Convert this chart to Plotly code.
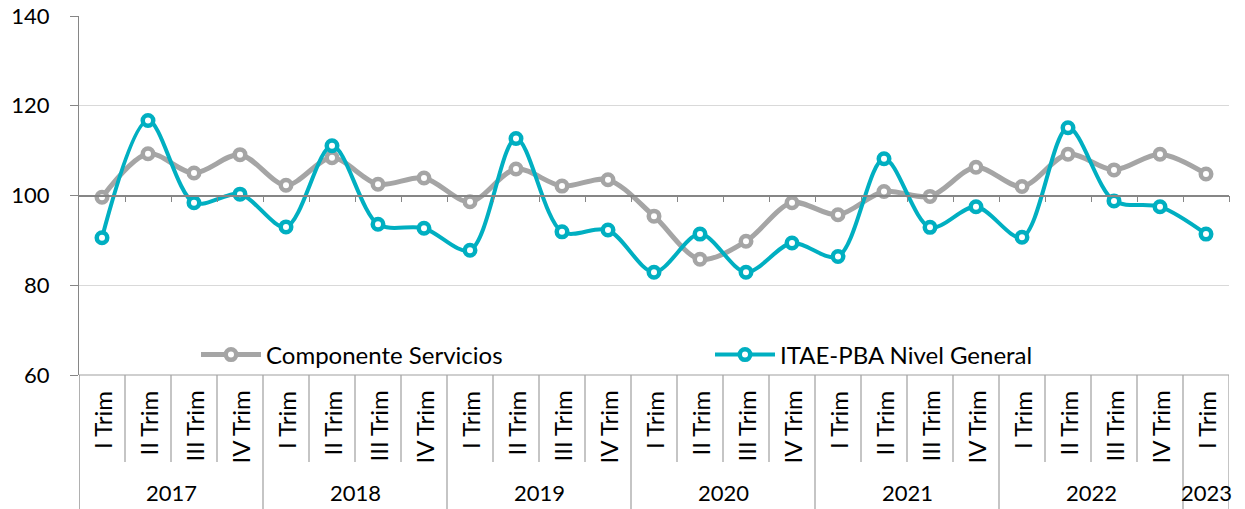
import plotly.graph_objects as go

years = ["2017", "2018", "2019", "2020", "2021", "2022", "2023"]
quarters = ["I Trim", "II Trim", "III Trim", "IV Trim"]
n_points = 25
quarter_labels = [quarters[i % 4] for i in range(n_points)]
year_of_point = [years[i // 4] for i in range(n_points)]

servicios = [99.6, 109.3, 105.0, 109.1, 102.3, 108.4, 102.5, 103.9, 98.6, 105.9,
             102.1, 103.5, 95.4, 85.8, 89.8, 98.4, 95.7, 100.9, 99.8, 106.3,
             102.0, 109.2, 105.7, 109.2, 104.8]
itae = [90.6, 116.7, 98.4, 100.3, 93.0, 111.1, 93.6, 92.7, 87.8, 112.7,
        91.9, 92.3, 82.9, 91.4, 82.9, 89.4, 86.4, 108.2, 92.9, 97.5,
        90.7, 115.1, 98.8, 97.5, 91.4]

GRAY = "#A5A5A5"
TEAL = "#00AFC1"
FONT = "Lato"
x = list(range(n_points))

fig = go.Figure()
fig.add_trace(go.Scatter(
    x=x, y=servicios, name="Componente Servicios", mode="lines+markers", legend="legend",
    line=dict(color=GRAY, width=5, shape="spline", smoothing=0.9),
    marker=dict(symbol="circle", size=10.5, color="white", line=dict(color=GRAY, width=4.5)),
))
fig.add_trace(go.Scatter(
    x=x, y=itae, name="ITAE-PBA Nivel General", mode="lines+markers", legend="legend2",
    line=dict(color=TEAL, width=4, shape="spline", smoothing=0.9),
    marker=dict(symbol="circle", size=10.5, color="white", line=dict(color=TEAL, width=4.5)),
))

L, R = 79, 1229
plot_top, plot_bottom = 16, 375
H = plot_bottom - plot_top
W = R - L

def py(pix):
    return (plot_bottom - pix) / H

def px(pix):
    return (pix - L) / W

shapes = []
shapes.append(dict(type="line", xref="x", yref="paper", x0=-0.5, x1=n_points - 0.5, y0=0, y1=0,
                   line=dict(color="#BFBFBF", width=1.3)))
for b in range(n_points + 1):
    xb = b - 0.5
    is_year = (b % 4 == 0) or b == n_points
    y1 = py(509) if is_year else py(462)
    shapes.append(dict(type="line", xref="x", yref="paper", x0=xb, x1=xb, y0=0, y1=y1,
                       line=dict(color="#A6A6A6" if b > 0 else "#868686", width=1.3)))

annotations = []
for i, q in enumerate(quarter_labels):
    annotations.append(dict(x=i, y=py(389), xref="x", yref="paper", text=q, showarrow=False,
                            textangle=-90, xanchor="center", yanchor="top",
                            font=dict(family=FONT, size=24, color="#000000")))
for k, yr in enumerate(years):
    idx = [i for i in range(n_points) if year_of_point[i] == yr]
    xc = (idx[0] + idx[-1]) / 2
    annotations.append(dict(x=xc, y=py(492), xref="x", yref="paper", text=yr, showarrow=False,
                            xanchor="center", yanchor="middle",
                            font=dict(family=FONT, size=22, color="#000000")))

legend_common = dict(orientation="h", yanchor="middle", y=py(355), xanchor="left",
                     itemwidth=60, bgcolor="rgba(0,0,0,0)",
                     font=dict(family=FONT, size=24, color="#000000"))

fig.update_layout(
    width=1245, height=509,
    margin=dict(l=L, r=1245 - R, t=plot_top, b=509 - plot_bottom, autoexpand=False),
    paper_bgcolor="white", plot_bgcolor="white",
    font=dict(family=FONT, size=22, color="#000000"),
    showlegend=True,
    legend=dict(x=px(196), **legend_common),
    legend2=dict(x=px(710), **legend_common),
    xaxis=dict(range=[-0.5, n_points - 0.5], anchor="free", position=0.5, automargin=False,
               showgrid=False, zeroline=False, showline=True, linecolor="#868686", linewidth=1.5,
               ticks="outside", ticklen=6, tickcolor="#868686", tickwidth=1.3,
               tickvals=[b + 0.5 for b in range(n_points)], showticklabels=False),
    yaxis=dict(range=[60, 140], tickvals=[60, 80, 100, 120, 140], showgrid=True, automargin=False,
               gridcolor="#D9D9D9", gridwidth=1.3, zeroline=False, showline=True,
               linecolor="#868686", linewidth=1.3, ticks="outside", ticklen=8,
               tickcolor="#868686", ticklabelstandoff=16,
               tickfont=dict(family=FONT, size=22, color="#000000")),
    shapes=shapes, annotations=annotations,
)

fig.write_html("out.html", config={"displayModeBar": False},
               post_script="document.body.style.margin='0';document.body.style.padding='0';")
